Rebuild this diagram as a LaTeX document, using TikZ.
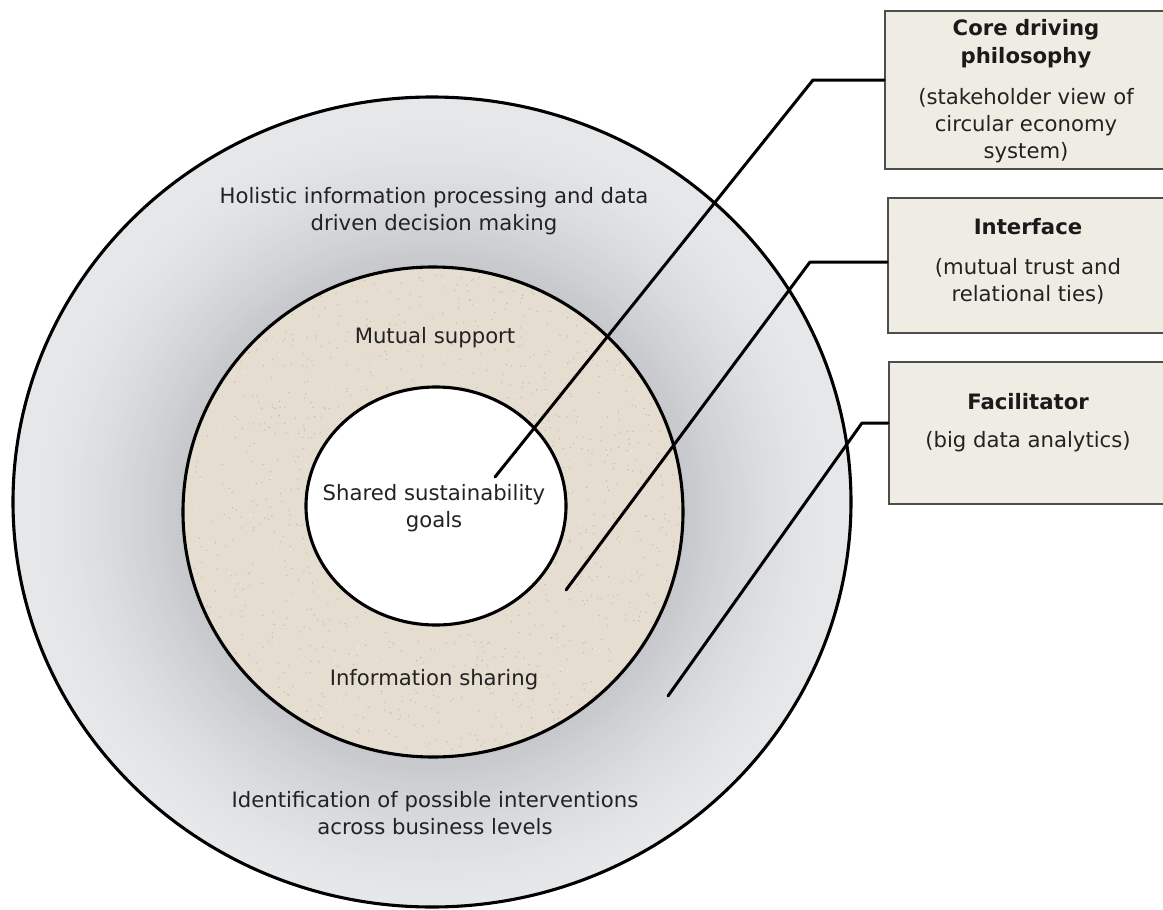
\documentclass[tikz,border=0pt]{standalone}
\usepackage{fontspec}
\setmainfont{DejaVu Sans}
\usetikzlibrary{calc}

\definecolor{ringgray}{HTML}{E6E7E9}
\definecolor{ringshade}{HTML}{C5C7CA}
\definecolor{sand}{HTML}{E5DDD0}
\definecolor{sanddark}{HTML}{C9BCA7}
\definecolor{sandlight}{HTML}{F0EBE2}
\definecolor{boxfill}{HTML}{EFECE3}
\definecolor{boxline}{HTML}{4D4D4D}
\definecolor{txt}{HTML}{222222}
\definecolor{headtxt}{HTML}{1A1A1A}

\tikzset{
  ringline/.style={draw=black, line width=3.1pt},
  leader/.style={draw=black, line width=3pt, line cap=round, line join=round},
  ringtext/.style={text=txt, align=center, inner sep=0pt,
    font=\fontsize{21.2pt}{27pt}\selectfont},
  infobox/.style={fill=boxfill, draw=boxline, line width=1.7pt, rectangle,
    anchor=north west, minimum width=290pt},
  boxhead/.style={text=headtxt, align=center, inner sep=0pt,
    font=\fontsize{21.2pt}{28pt}\selectfont\bfseries},
  boxbody/.style={text=txt, align=center, inner sep=0pt,
    font=\fontsize{21.2pt}{27pt}\selectfont},
}

\begin{document}
\begin{tikzpicture}[x=1pt, y=-1pt]
\clip (0,0) rectangle (1163,910);
\fill[white] (0,0) rectangle (1163,910);

% outer ring with a soft grey halo around the middle ring
\fill[ringgray] (432,502) ellipse [x radius=419pt, y radius=405pt];
\begin{scope}
  \clip (432,502) ellipse [x radius=419pt, y radius=405pt];
  \foreach \i in {50,49,...,0}{
    \pgfmathsetmacro{\mixval}{100*(1-\i/50)^1.4}
    \pgfmathsetmacro{\rr}{250+3*\i}
    \fill[ringshade!\mixval!ringgray] (433,512) ellipse [x radius=\rr pt, y radius=\rr pt-5pt];
  }
\end{scope}

% middle ring, sandy texture
\fill[sand] (433,512) ellipse [x radius=250pt, y radius=245pt];
\begin{scope}
  \clip (433,512) ellipse [x radius=250pt, y radius=245pt];
  \pgfmathsetseed{17}
  \foreach \k in {1,...,1400}{
    \pgfmathsetmacro{\px}{183+500*rnd}
    \pgfmathsetmacro{\py}{267+490*rnd}
    \fill[sanddark] (\px,\py) circle[radius=0.75pt];
  }
  \foreach \k in {1,...,700}{
    \pgfmathsetmacro{\px}{183+500*rnd}
    \pgfmathsetmacro{\py}{267+490*rnd}
    \fill[sandlight] (\px,\py) circle[radius=0.8pt];
  }
\end{scope}

% core
\fill[white] (436,506) ellipse [x radius=130pt, y radius=119pt];

% outlines
\draw[ringline] (432,502) ellipse [x radius=419pt, y radius=405pt];
\draw[ringline] (433,512) ellipse [x radius=250pt, y radius=245pt];
\draw[ringline] (436,506) ellipse [x radius=130pt, y radius=119pt];

% side boxes
\node[infobox, minimum height=158pt] (core)  at (884,10)  {};
\node[infobox, minimum height=135pt] (iface) at (887,197) {};
\node[infobox, minimum height=142pt] (facil) at (888,361) {};

\node[boxhead] (coreHead)  at (1026,44)  {Core driving\\philosophy};
\node[boxbody] (coreBody)  at (1026,126) {(stakeholder view of\\circular economy\\system)};
\node[boxhead] (ifaceHead) at (1028,227) {Interface};
\node[boxbody] (ifaceBody) at (1028,281.5) {(mutual trust and\\relational ties)};
\node[boxhead] (facilHead) at (1028,402) {Facilitator};
\node[boxbody] (facilBody) at (1028,442) {(big data analytics)};

% leader lines
\coordinate (coreBend)  at (813,80);
\coordinate (coreEnd)   at (495,477);
\coordinate (ifaceBend) at (810,262);
\coordinate (ifaceEnd)  at (566,590);
\coordinate (facilBend) at (862,423);
\coordinate (facilEnd)  at (668,696);
\draw[leader] (core.west |- coreBend) -- (coreBend) -- (coreEnd);
\draw[leader] (iface.west |- ifaceBend) -- (ifaceBend) -- (ifaceEnd);
\draw[leader] (facil.west |- facilBend) -- (facilBend) -- (facilEnd);

% ring labels
\node[ringtext] (holistic) at (434,211)
  {Holistic information processing and data\\driven decision making};
\node[ringtext] (support) at (435,338) {Mutual support};
\node[ringtext] (goals) at (434,508) {Shared sustainability\\goals};
\node[ringtext] (sharing) at (434,680) {Information sharing};
\node[ringtext] (interventions) at (435,813)
  {Identification of possible interventions\\across business levels};
\end{tikzpicture}
\end{document}
